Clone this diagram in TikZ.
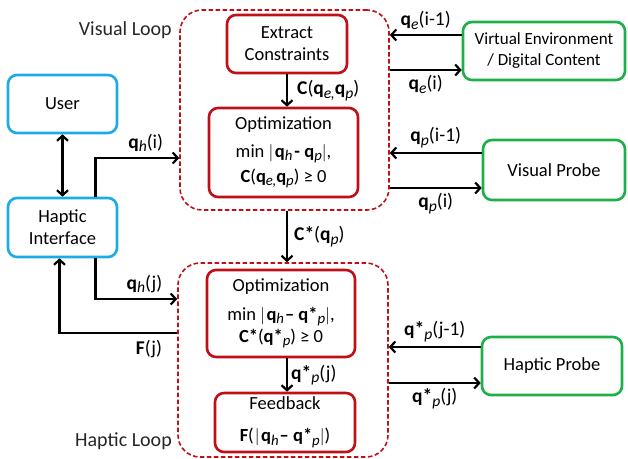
\documentclass[tikz,border=0pt]{standalone}
\usepackage{fontspec}
\setmainfont{Carlito}
\usetikzlibrary{arrows.meta,calc}
\definecolor{cblue}{RGB}{27,172,230}
\definecolor{cgreen}{RGB}{30,176,72}
\definecolor{cred}{RGB}{190,16,22}
\newcommand{\qsub}[2]{\textbf{#1}\raisebox{-0.4ex}{\scalebox{0.8}{\textit{#2}}}}
\newcommand{\vbar}{$|$\kern1.5pt}
\begin{document}
\begin{tikzpicture}[x=1pt,y=-1pt,
  every node/.style={font=\fontsize{18.5}{22}\selectfont, align=center, inner sep=0pt},
  bbox/.style={draw=cblue, line width=2.6pt, rounded corners=9pt},
  gbox/.style={draw=cgreen, line width=2.6pt, rounded corners=9pt},
  rbox/.style={draw=cred, line width=2.6pt, rounded corners=9pt},
  loopbox/.style={draw=cred, line width=1.6pt, dash pattern=on 4.5pt off 2.5pt, rounded corners=22pt},
  arr/.style={line width=2.4pt, -{Straight Barb[length=5pt,width=11pt,line width=2.2pt]}},
  darr/.style={line width=2.4pt, {Straight Barb[length=5pt,width=11pt,line width=2.2pt]}-{Straight Barb[length=5pt,width=11pt,line width=2.2pt]}},
  lbl/.style={font=\fontsize{19.5}{22}\selectfont},
  ttl/.style={font=\fontsize{20}{22}\selectfont, text=black!85}]
\useasboundingbox (0,0) rectangle (628,458);
% loops
\node[loopbox, minimum width=209pt, minimum height=200pt] (vloop) at (284.5,110) {};
\node[loopbox, minimum width=210pt, minimum height=194pt] (hloop) at (283,360) {};
\node[ttl, anchor=east] (vt) at (172,30) {Visual Loop};
\node[ttl, anchor=east] (ht) at (172,441) {Haptic Loop};
% left
\node[bbox, minimum width=109pt, minimum height=58pt] (user) at (62.5,104) {User};
\node[bbox, minimum width=109pt, minimum height=59pt] (hi) at (62.5,227.5) {Haptic\\Interface};
% visual loop
\node[rbox, minimum width=120pt, minimum height=58pt] (ec) at (287,44) {Extract\\Constraints};
\node[rbox, minimum width=149pt, minimum height=89pt] (vopt) at (283.5,152.5) {Optimization\\[6pt]
  min \vbar\qsub{q}{h}\kern2pt\textbf{-} \qsub{q}{p}$|$,\\[3pt] \textbf{C}(\qsub{q}{e\kern-0.5pt,}\qsub{q}{p}) ≥ 0};
% haptic loop
\node[rbox, minimum width=148pt, minimum height=87pt] (hopt) at (281,313.5) {Optimization\\[7pt]
  min \vbar\qsub{q}{h}\kern1pt\textbf{–} \qsub{q*}{p}$|$,\\ \textbf{C*}(\qsub{q*}{p}) ≥ 0};
\node[rbox, minimum width=140pt, minimum height=59pt] (fb) at (285,422.5) {Feedback\\[10pt]
  \textbf{F}(\kern1pt\vbar\qsub{q}{h}\kern1pt\textbf{–} \qsub{q*}{p}$|$)};
% right
\node[gbox, minimum width=162pt, minimum height=58pt, font=\fontsize{17}{21}\selectfont] (ve) at (544,51) {Virtual Environment\\/ Digital Content};
\node[gbox, minimum width=142pt, minimum height=60pt] (vp) at (554,170) {Visual Probe};
\node[gbox, minimum width=140pt, minimum height=58pt] (hp) at (552,366) {Haptic Probe};
% internal arrows
\draw[arr] (ec.south) -- (ec.south |- vopt.north) node[lbl, midway, anchor=west, xshift=9pt] {\textbf{C}(\qsub{q}{e\kern-0.5pt,}\qsub{q}{p})};
\draw[arr] (vloop.south -| ec.south) -- (hloop.north -| ec.south) node[lbl, midway, anchor=west, xshift=6pt] {\textbf{C*}(\qsub{q}{p})};
\draw[arr] (hopt.south -| ec.south) -- (fb.north -| ec.south) node[lbl, midway, anchor=west, xshift=3pt] {\qsub{q*}{p}(j)};
% left arrows
\draw[darr] (user.south) -- (hi.north);
\coordinate (hiA) at ($(hi.north)+(33,0)$);
\coordinate (hiB) at ($(hi.south)+(33,0)$);
\coordinate (hiC) at ($(hi.south)+(-3,0)$);
\draw[arr] (hiA) |- (vloop.west |- 0,158) node[lbl, pos=0.8, above=5pt] {\qsub{q}{h}(i)};
\draw[arr] (hiB) |- (hloop.west |- 0,299) node[lbl, pos=0.8, above=5pt] {\qsub{q}{h}(j)};
\draw[arr] (hloop.west |- 0,333) -| node[lbl, pos=0.12, below=6pt] {\textbf{F}(j)} (hiC);
% right arrows
\draw[arr] (ve.west |- 0,35) -- (vloop.east |- 0,35) node[lbl, midway, above=4pt] {\qsub{q}{e}(i-1)};
\draw[arr] (vloop.east |- 0,70) -- (ve.west |- 0,70) node[lbl, midway, below=4pt] {\qsub{q}{e}(i)};
\draw[arr] (vp.west |- 0,153) -- (vloop.east |- 0,153) node[lbl, midway, above=4pt] {\qsub{q}{p}(i-1)};
\draw[arr] (vloop.east |- 0,188) -- (vp.west |- 0,188) node[lbl, midway, below=4pt] {\qsub{q}{p}(i)};
\draw[arr] (hp.west |- 0,347) -- (hloop.east |- 0,347) node[lbl, midway, above=4pt] {\qsub{q*}{p}(j-1)};
\draw[arr] (hloop.east |- 0,383) -- (hp.west |- 0,383) node[lbl, midway, below=4pt] {\qsub{q*}{p}(j)};
\end{tikzpicture}
\end{document}
